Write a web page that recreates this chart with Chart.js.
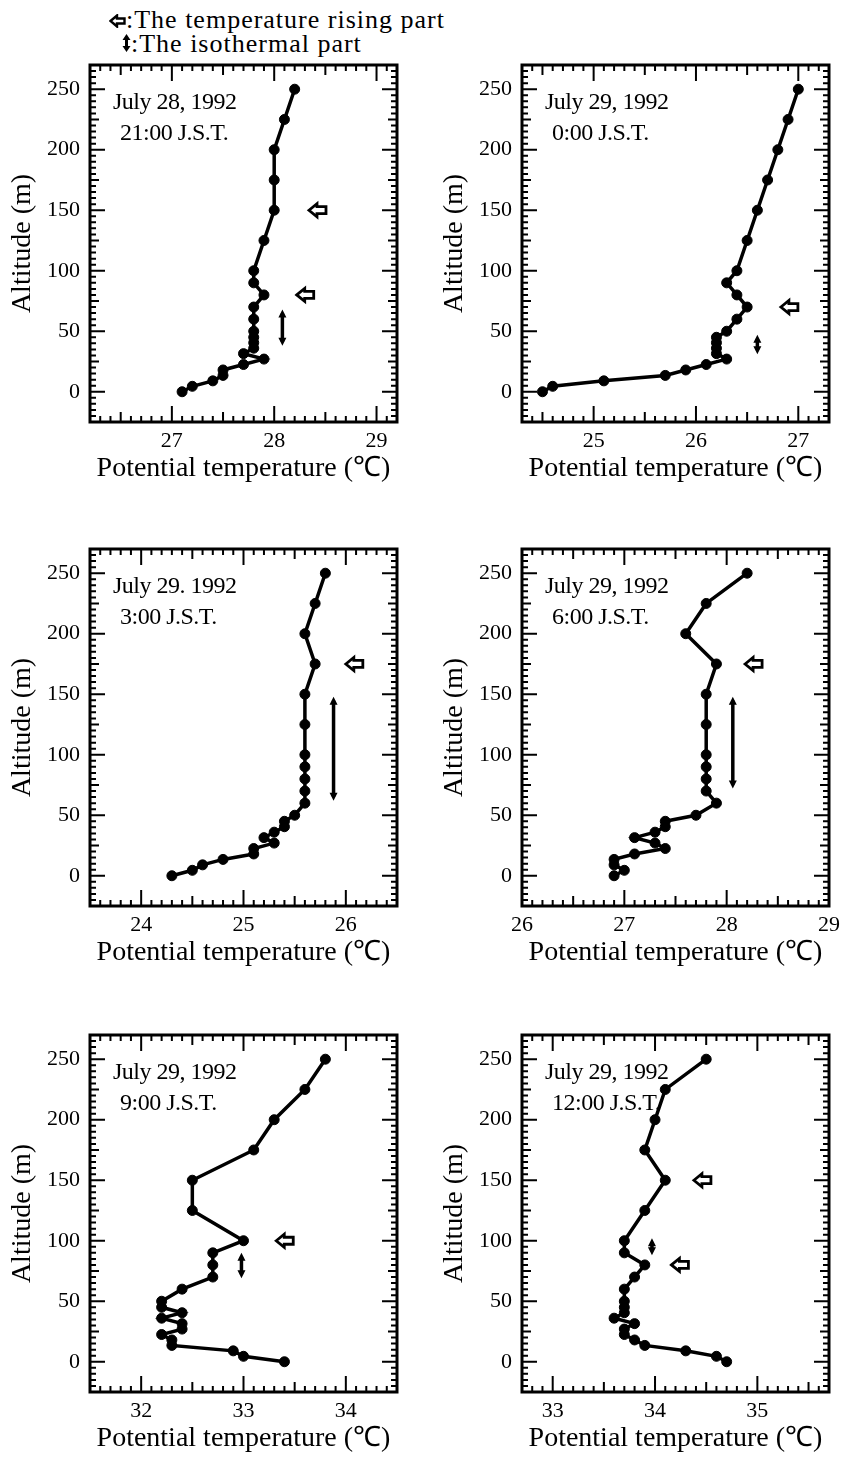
<!DOCTYPE html>
<html>
<head>
<meta charset="utf-8">
<script src="https://cdn.jsdelivr.net/npm/chart.js@4.4.0/dist/chart.umd.min.js"></script>
<style>
  body { margin: 0; background: #fff; }
  #page { position: relative; width: 842px; height: 1457px; overflow: hidden; background: #fff; color: #000;
          font-family: "Liberation Serif", "Times New Roman", serif; }
  .panel { position: absolute; }
  .legend { position: absolute; font-size: 26px; letter-spacing: 1px; white-space: nowrap; line-height: 24px; }
  .legend svg { vertical-align: baseline; }
</style>
</head>
<body>
<div id="page">
  <div class="legend" style="left:109px; top:8px;">
    <svg width="17" height="14" viewBox="0 0 17 14"><path d="M1.5 7 L8 1.5 L8 4.5 L15.5 4.5 L15.5 9.5 L8 9.5 L8 12.5 Z" fill="#fff" stroke="#000" stroke-width="2.4"/></svg>:The temperature rising part
  </div>
  <div class="legend" style="left:122px; top:32px;">
    <svg width="9" height="18" viewBox="0 0 9 18"><path d="M4.5 0 L8.5 6 L0.5 6 Z M4.5 18 L8.5 12 L0.5 12 Z" fill="#000"/><line x1="4.5" y1="4" x2="4.5" y2="14" stroke="#000" stroke-width="3"/></svg>:The isothermal part
  </div>

  <canvas class="panel" id="p1" width="415" height="443" style="left:0px; top:41px;"></canvas>
  <canvas class="panel" id="p2" width="415" height="443" style="left:432px; top:41px;"></canvas>
  <canvas class="panel" id="p3" width="415" height="443" style="left:0px; top:525px;"></canvas>
  <canvas class="panel" id="p4" width="415" height="443" style="left:432px; top:525px;"></canvas>
  <canvas class="panel" id="p5" width="415" height="443" style="left:0px; top:1011px;"></canvas>
  <canvas class="panel" id="p6" width="415" height="443" style="left:432px; top:1011px;"></canvas>
</div>

<script>
// Höjdnivåer (m) för alla sonderingar
const altitudes = [0, 4.5, 9, 13.5, 18, 22.5, 27, 31.5, 36, 40.5, 45, 50, 60, 70, 80, 90, 100, 125, 150, 175, 200, 225, 250];

// Potentiell temperatur (°C) per tidpunkt, samma ordning som altitudes
const tempJul28h21 = [27.1, 27.2, 27.4, 27.5, 27.5, 27.7, 27.9, 27.7, 27.8, 27.8, 27.8, 27.8, 27.8, 27.8, 27.9, 27.8, 27.8, 27.9, 28.0, 28.0, 28.0, 28.1, 28.2];
const tempJul29h00 = [24.5, 24.6, 25.1, 25.7, 25.9, 26.1, 26.3, 26.2, 26.2, 26.2, 26.2, 26.3, 26.4, 26.5, 26.4, 26.3, 26.4, 26.5, 26.6, 26.7, 26.8, 26.9, 27.0];
const tempJul29h03 = [24.3, 24.5, 24.6, 24.8, 25.1, 25.1, 25.3, 25.2, 25.3, 25.4, 25.4, 25.5, 25.6, 25.6, 25.6, 25.6, 25.6, 25.6, 25.6, 25.7, 25.6, 25.7, 25.8];
const tempJul29h06 = [26.9, 27.0, 26.9, 26.9, 27.1, 27.4, 27.3, 27.1, 27.3, 27.4, 27.4, 27.7, 27.9, 27.8, 27.8, 27.8, 27.8, 27.8, 27.8, 27.9, 27.6, 27.8, 28.2];
const tempJul29h09 = [33.4, 33.0, 32.9, 32.3, 32.3, 32.2, 32.4, 32.4, 32.2, 32.4, 32.2, 32.2, 32.4, 32.7, 32.7, 32.7, 33.0, 32.5, 32.5, 33.1, 33.3, 33.6, 33.8];
const tempJul29h12 = [34.7, 34.6, 34.3, 33.9, 33.8, 33.7, 33.7, 33.8, 33.6, 33.7, 33.7, 33.7, 33.7, 33.8, 33.9, 33.7, 33.7, 33.9, 34.1, 33.9, 34.0, 34.1, 34.5];

// Tick-etiketter
const altTicks = [0, 50, 100, 150, 200, 250];
const tempTicksH21 = [27, 28, 29];
const tempTicksH00 = [25, 26, 27];
const tempTicksH03 = [24, 25, 26];
const tempTicksH06 = [26, 27, 28, 29];
const tempTicksH09 = [32, 33, 34];
const tempTicksH12 = [33, 34, 35];

// Markeringar: uppvärmd del (pilspets-temperatur, höjd) och isoterm del (temperatur, från, till)
const risingH21 = [[28.34, 150], [28.22, 80]];
const risingH00 = [[26.83, 70]];
const risingH03 = [[26.0, 175]];
const risingH06 = [[28.18, 175]];
const risingH09 = [[33.32, 100]];
const risingH12 = [[34.38, 150], [34.16, 80]];

const isoH21 = [[28.08, 38, 68]];
const isoH00 = [[26.6, 31, 47]];
const isoH03 = [[25.88, 62, 148]];
const isoH06 = [[28.06, 72, 148]];
const isoH09 = [[32.98, 69, 90]];
const isoH12 = [[33.97, 88, 102]];

const serif = "'Liberation Serif', 'Times New Roman', serif";

// Ram, inåtriktade tickmarkeringar, pilar och datumtext
const panelDecor = {
    id: 'panelDecor',
    afterDatasetsDraw(chart, args, opts) {
        const {ctx, chartArea: a, scales: {x, y}} = chart;
        ctx.save();
        ctx.strokeStyle = '#000';
        ctx.fillStyle = '#000';

        // tickmarkeringar på alla fyra sidor
        ctx.lineWidth = 2;
        ctx.beginPath();
        for (let v = Math.ceil(x.min * 10); v <= Math.floor(x.max * 10); v++) {
            const px = x.getPixelForValue(v / 10);
            const len = v % 10 === 0 ? 16 : (v % 5 === 0 ? 10 : 6);
            ctx.moveTo(px, a.bottom); ctx.lineTo(px, a.bottom - len);
            ctx.moveTo(px, a.top); ctx.lineTo(px, a.top + len);
        }
        for (let v = Math.ceil(y.min / 5); v <= Math.floor(y.max / 5); v++) {
            const py = y.getPixelForValue(v * 5);
            const len = (v * 5) % 50 === 0 ? 15 : ((v * 5) % 25 === 0 ? 9 : 6);
            ctx.moveTo(a.left, py); ctx.lineTo(a.left + len, py);
            ctx.moveTo(a.right, py); ctx.lineTo(a.right - len, py);
        }
        ctx.stroke();

        // ram
        ctx.lineWidth = 3;
        ctx.strokeRect(a.left, a.top, a.right - a.left, a.bottom - a.top);

        // ihåliga pilar (temperaturhöjning)
        opts.rising.forEach(([t, alt]) => {
            const px = x.getPixelForValue(t), py = y.getPixelForValue(alt);
            ctx.beginPath();
            ctx.moveTo(px, py);
            ctx.lineTo(px + 8, py - 6.5);
            ctx.lineTo(px + 8, py - 3.5);
            ctx.lineTo(px + 17, py - 3.5);
            ctx.lineTo(px + 17, py + 3.5);
            ctx.lineTo(px + 8, py + 3.5);
            ctx.lineTo(px + 8, py + 6.5);
            ctx.closePath();
            ctx.fillStyle = '#fff';
            ctx.fill();
            ctx.lineWidth = 2.8;
            ctx.stroke();
        });

        // dubbelpilar (isoterm del)
        ctx.fillStyle = '#000';
        opts.iso.forEach(([t, a1, a2]) => {
            const px = x.getPixelForValue(t);
            const pTop = y.getPixelForValue(a2), pBot = y.getPixelForValue(a1);
            ctx.lineWidth = 3.5;
            ctx.beginPath();
            ctx.moveTo(px, pTop + 4); ctx.lineTo(px, pBot - 4);
            ctx.stroke();
            ctx.beginPath();
            ctx.moveTo(px, pTop); ctx.lineTo(px - 4, pTop + 8); ctx.lineTo(px + 4, pTop + 8); ctx.closePath();
            ctx.moveTo(px, pBot); ctx.lineTo(px - 4, pBot - 8); ctx.lineTo(px + 4, pBot - 8); ctx.closePath();
            ctx.fill();
        });

        // datum och tid
        ctx.font = '24px ' + serif;
        ctx.letterSpacing = '-0.5px';
        ctx.textAlign = 'left';
        ctx.textBaseline = 'alphabetic';
        ctx.fillText(opts.date, a.left + 23, a.top + 44);
        ctx.fillText(opts.time, a.left + 30, a.top + 75);
        ctx.restore();
    }
};

function makePanel(id, temps, xTicks, xMin, xMax, date, time, rising, iso) {
    const points = temps.map((t, i) => ({x: t, y: altitudes[i]}));
    new Chart(document.getElementById(id), {
        type: 'scatter',
        data: {
            datasets: [{
                data: points,
                showLine: true,
                borderColor: '#000',
                borderWidth: 3.5,
                pointRadius: 5,
                pointBackgroundColor: '#000',
                pointBorderColor: '#000',
                pointBorderWidth: 1,
                tension: 0
            }]
        },
        options: {
            responsive: false,
            animation: false,
            events: [],
            layout: {padding: {top: 24, right: 18, left: 0, bottom: 0}},
            plugins: {
                legend: {display: false},
                tooltip: {enabled: false},
                panelDecor: {date: date, time: time, rising: rising, iso: iso}
            },
            scales: {
                x: {
                    type: 'linear',
                    min: xMin,
                    max: xMax,
                    afterBuildTicks: s => { s.ticks = xTicks.map(v => ({value: v})); },
                    afterFit: s => { s.height = 62; },
                    grid: {display: false, drawTicks: false},
                    border: {display: false},
                    ticks: {color: '#000', padding: 6, font: {family: serif, size: 22, lineHeight: 1.2}},
                    title: {
                        display: true,
                        text: 'Potential temperature (℃)',
                        color: '#000',
                        font: {family: serif, size: 28, lineHeight: 1},
                        padding: {top: 0, bottom: 1}
                    }
                },
                y: {
                    type: 'linear',
                    min: -25,
                    max: 270,
                    afterBuildTicks: s => { s.ticks = altTicks.map(v => ({value: v})); },
                    afterFit: s => { s.width = 90; },
                    grid: {display: false, drawTicks: false},
                    border: {display: false},
                    ticks: {color: '#000', padding: 10, font: {family: serif, size: 22}},
                    title: {
                        display: true,
                        text: 'Altitude (m)',
                        color: '#000',
                        font: {family: serif, size: 28, lineHeight: 1},
                        padding: {top: 9, bottom: 0}
                    }
                }
            }
        },
        plugins: [panelDecor]
    });
}

makePanel('p1', tempJul28h21, tempTicksH21, 26.2, 29.2, 'July 28, 1992', '21:00 J.S.T.', risingH21, isoH21);
makePanel('p2', tempJul29h00, tempTicksH00, 24.3, 27.3, 'July 29, 1992', '0:00 J.S.T.', risingH00, isoH00);
makePanel('p3', tempJul29h03, tempTicksH03, 23.5, 26.5, 'July 29. 1992', '3:00 J.S.T.', risingH03, isoH03);
makePanel('p4', tempJul29h06, tempTicksH06, 26.0, 29.0, 'July 29, 1992', '6:00 J.S.T.', risingH06, isoH06);
makePanel('p5', tempJul29h09, tempTicksH09, 31.5, 34.5, 'July 29, 1992', '9:00 J.S.T.', risingH09, isoH09);
makePanel('p6', tempJul29h12, tempTicksH12, 32.7, 35.7, 'July 29, 1992', '12:00 J.S.T.', risingH12, isoH12);
</script>
</body>
</html>
